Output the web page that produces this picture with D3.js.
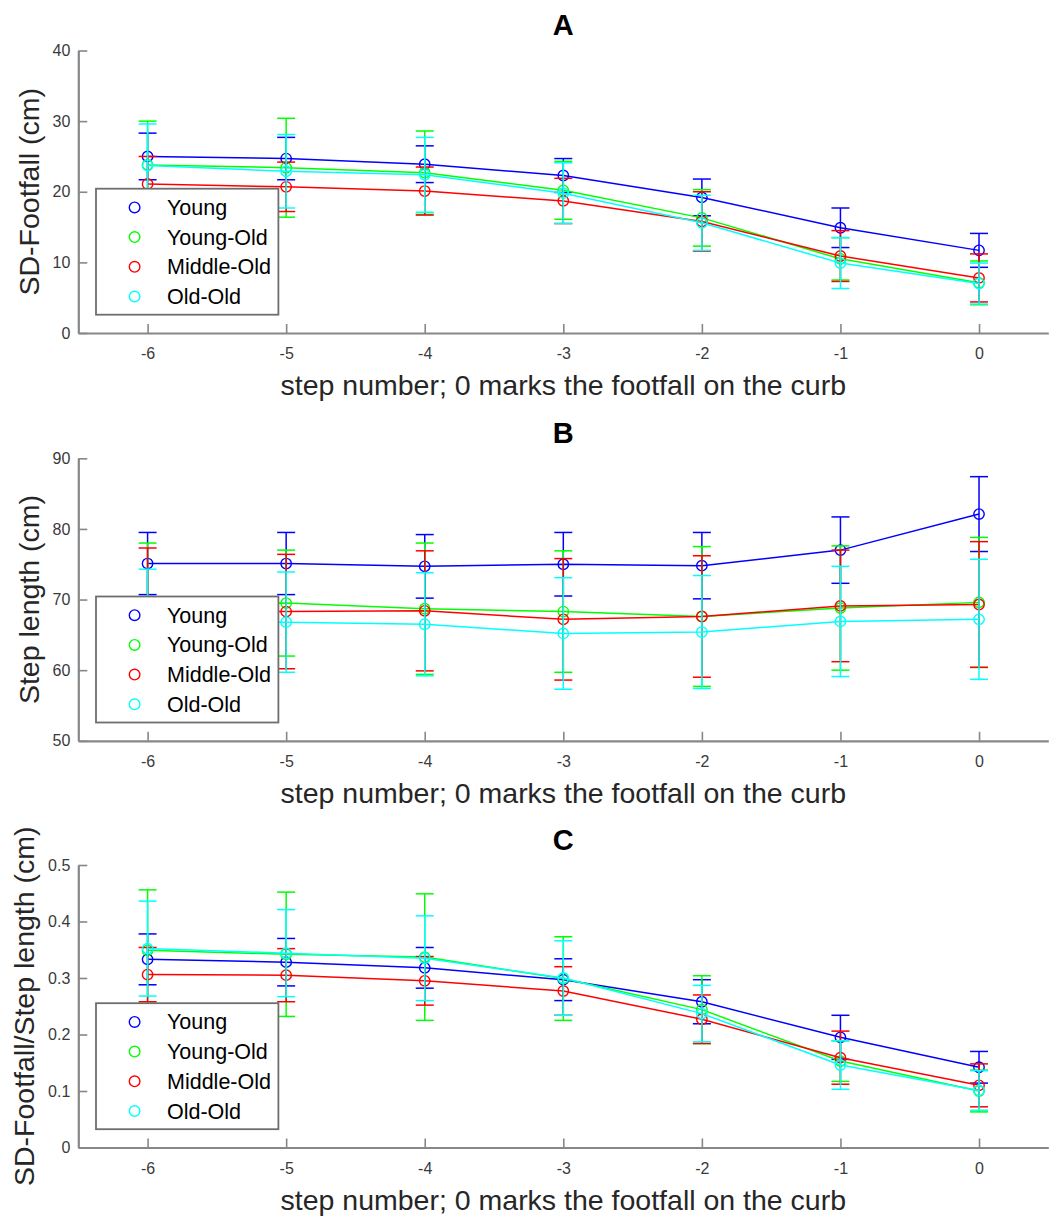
<!DOCTYPE html>
<html>
<head>
<meta charset="utf-8">
<script src="https://cdn.jsdelivr.net/npm/d3@7"></script>
<style>
  html, body { margin: 0; padding: 0; background: #fff; }
  svg { display: block; }
  text { font-family: "Liberation Sans", Arial, Helvetica, sans-serif; }
</style>
</head>
<body>
<svg id="chart" width="1054" height="1218"></svg>
<script>
// ---------- data ----------
const steps = [-6, -5, -4, -3, -2, -1, 0];
const groups = ["Young", "Young-Old", "Middle-Old", "Old-Old"];
const groupColors = ["#0000ff", "#00ff00", "#ff0000", "#00ffff"];
const xTicks = [-6, -5, -4, -3, -2, -1, 0];
const xLabel = "step number; 0 marks the footfall on the curb";

// Panel A: SD-Footfall (cm), mean and SD per group
const footfallYoung      = [25.0, 24.7, 23.9, 22.3, 19.2, 14.9, 11.7];
const footfallYoungOld   = [23.8, 23.4, 22.7, 20.2, 16.3, 10.5, 7.1];
const footfallMiddleOld  = [21.1, 20.7, 20.1, 18.7, 15.8, 10.9, 7.8];
const footfallOldOld     = [23.7, 22.9, 22.4, 19.8, 15.6, 9.9, 7.0];
const footfallYoungSD     = [3.3, 3.0, 2.6, 2.4, 2.6, 2.8, 2.4];
const footfallYoungOldSD  = [6.2, 7.0, 5.9, 4.1, 4.0, 3.0, 3.1];
const footfallMiddleOldSD = [3.9, 3.5, 3.4, 3.2, 4.2, 3.6, 3.4];
const footfallOldOldSD    = [5.9, 5.2, 5.3, 4.3, 3.9, 3.6, 2.9];
const footfallTicks = [0, 10, 20, 30, 40];

// Panel B: Step length (cm)
const lengthYoung      = [75.1, 75.1, 74.7, 75.0, 74.8, 77.0, 82.1];
const lengthYoungOld   = [69.4, 69.5, 68.7, 68.3, 67.6, 68.8, 69.6];
const lengthMiddleOld  = [68.3, 68.3, 68.4, 67.2, 67.6, 69.1, 69.3];
const lengthOldOld     = [66.8, 66.8, 66.5, 65.2, 65.4, 66.9, 67.2];
const lengthYoungSD     = [4.4, 4.4, 4.5, 4.5, 4.7, 4.7, 5.3];
const lengthYoungOldSD  = [8.6, 7.5, 9.3, 8.6, 9.9, 8.8, 9.2];
const lengthMiddleOldSD = [9.0, 8.1, 8.5, 8.6, 8.6, 7.9, 8.9];
const lengthOldOldSD    = [7.5, 7.1, 7.3, 7.9, 8.0, 7.8, 8.5];
const lengthTicks = [50, 60, 70, 80, 90];

// Panel C: SD-Footfall / Step length
const ratioYoung      = [0.333, 0.328, 0.318, 0.297, 0.258, 0.195, 0.142];
const ratioYoungOld   = [0.349, 0.342, 0.337, 0.299, 0.244, 0.153, 0.100];
const ratioMiddleOld  = [0.306, 0.305, 0.295, 0.277, 0.227, 0.159, 0.110];
const ratioOldOld     = [0.352, 0.344, 0.335, 0.300, 0.237, 0.146, 0.101];
const ratioYoungSD     = [0.045, 0.042, 0.036, 0.037, 0.039, 0.039, 0.028];
const ratioYoungOldSD  = [0.107, 0.110, 0.112, 0.074, 0.060, 0.036, 0.037];
const ratioMiddleOldSD = [0.048, 0.047, 0.043, 0.043, 0.043, 0.047, 0.038];
const ratioOldOldSD    = [0.084, 0.077, 0.075, 0.066, 0.050, 0.043, 0.035];
const ratioTicks = [0, 0.1, 0.2, 0.3, 0.4, 0.5];

const panels = [
  { title: "A", ylabel: "SD-Footfall (cm)", domain: [0, 40], ticks: footfallTicks, fmt: d => String(d),
    means: [footfallYoung, footfallYoungOld, footfallMiddleOld, footfallOldOld],
    sds: [footfallYoungSD, footfallYoungOldSD, footfallMiddleOldSD, footfallOldOldSD],
    top: 50.5, ylabX: 39 },
  { title: "B", ylabel: "Step length (cm)", domain: [50, 90], ticks: lengthTicks, fmt: d => String(d),
    means: [lengthYoung, lengthYoungOld, lengthMiddleOld, lengthOldOld],
    sds: [lengthYoungSD, lengthYoungOldSD, lengthMiddleOldSD, lengthOldOldSD],
    top: 458.3, ylabX: 39 },
  { title: "C", ylabel: "SD-Footfall/Step length (cm)", domain: [0, 0.5], ticks: ratioTicks, fmt: d => d === 0 ? "0" : d.toFixed(1),
    means: [ratioYoung, ratioYoungOld, ratioMiddleOld, ratioOldOld],
    sds: [ratioYoungSD, ratioYoungOldSD, ratioMiddleOldSD, ratioOldOldSD],
    top: 865, ylabX: 34 }
];

// ---------- layout ----------
const svg = d3.select("#chart");
const left = 78.3, right = 1048.3, plotH = 282.5;
const axisColor = "#878787";
const tickTextColor = "#3a3a3a";
const x = d3.scaleLinear().domain([-6.5, 0.5]).range([left, right]);

panels.forEach(p => {
  const bottom = p.top + plotH;
  const y = d3.scaleLinear().domain(p.domain).range([bottom, p.top]);
  const g = svg.append("g");

  // axes
  const xAxis = d3.axisBottom(x).tickValues(xTicks).tickSizeInner(-9).tickSizeOuter(0).tickPadding(14.5).tickFormat(d => String(d));
  const gx = g.append("g").attr("transform", `translate(0,${bottom})`).call(xAxis);
  const yAxis = d3.axisLeft(y).tickValues(p.ticks).tickSizeInner(-9).tickSizeOuter(0).tickPadding(8).tickFormat(p.fmt);
  const gy = g.append("g").attr("transform", `translate(${left},0)`).call(yAxis);
  [gx, gy].forEach(ax => {
    ax.attr("font-size", null).attr("font-family", null);
    ax.select(".domain").attr("stroke", axisColor).attr("stroke-width", 2.2);
    ax.selectAll(".tick line").attr("stroke", axisColor).attr("stroke-width", 1.6);
    ax.selectAll(".tick text").attr("fill", tickTextColor).style("font-size", "16px")
      .style("font-family", '"Liberation Sans", Arial, sans-serif');
  });
  gx.selectAll(".tick text").attr("dy", "0.72em");

  // title
  g.append("text").attr("x", (left + right) / 2).attr("y", p.top - 15.5)
    .attr("text-anchor", "middle").style("font-size", "29px").style("font-weight", "bold")
    .attr("fill", "#000").text(p.title);

  // x label
  g.append("text").attr("x", (left + right) / 2).attr("y", bottom + 62)
    .attr("text-anchor", "middle").style("font-size", "28.5px").attr("fill", "#262626").text(xLabel);

  // y label
  g.append("text").attr("transform", `translate(${p.ylabX},${(p.top + bottom) / 2}) rotate(-90)`)
    .attr("text-anchor", "middle").style("font-size", "28.5px").attr("fill", "#262626").text(p.ylabel);

  // series
  const line = d3.line().x((d, i) => x(steps[i])).y(d => y(d));
  const cap = 9;
  p.means.forEach((m, gi) => {
    const col = groupColors[gi];
    const sd = p.sds[gi];
    const s = g.append("g");
    // error bars
    m.forEach((v, i) => {
      const cx = x(steps[i]);
      const yt = y(v + sd[i]), yb = y(v - sd[i]);
      s.append("line").attr("x1", cx).attr("x2", cx).attr("y1", yt).attr("y2", yb)
        .attr("stroke", col).attr("stroke-width", 1.5);
      s.append("line").attr("x1", cx - cap).attr("x2", cx + cap).attr("y1", yt).attr("y2", yt)
        .attr("stroke", col).attr("stroke-width", 1.5);
      s.append("line").attr("x1", cx - cap).attr("x2", cx + cap).attr("y1", yb).attr("y2", yb)
        .attr("stroke", col).attr("stroke-width", 1.5);
    });
    s.append("path").datum(m).attr("d", line).attr("fill", "none")
      .attr("stroke", col).attr("stroke-width", 1.5);
    s.selectAll("circle").data(m).enter().append("circle")
      .attr("cx", (d, i) => x(steps[i])).attr("cy", d => y(d)).attr("r", 5.2)
      .attr("fill", "none").attr("stroke", col).attr("stroke-width", 1.4);
  });

  // legend
  const lgW = 182.4, lgH = 126;
  const lgX = 96, lgY = bottom - 18.3 - lgH;
  const lg = g.append("g");
  lg.append("rect").attr("x", lgX).attr("y", lgY).attr("width", lgW).attr("height", lgH)
    .attr("fill", "#fff").attr("stroke", "#6e6e6e").attr("stroke-width", 1.8);
  groups.forEach((name, i) => {
    const cy = lgY + 18.7 + i * 29.7;
    lg.append("circle").attr("cx", lgX + 38.6).attr("cy", cy).attr("r", 5.3)
      .attr("fill", "none").attr("stroke", groupColors[i]).attr("stroke-width", 1.4);
    lg.append("text").attr("x", lgX + 71).attr("y", cy + 7.5)
      .style("font-size", "21.5px").attr("fill", "#000").text(name);
  });
});
</script>
</body>
</html>
